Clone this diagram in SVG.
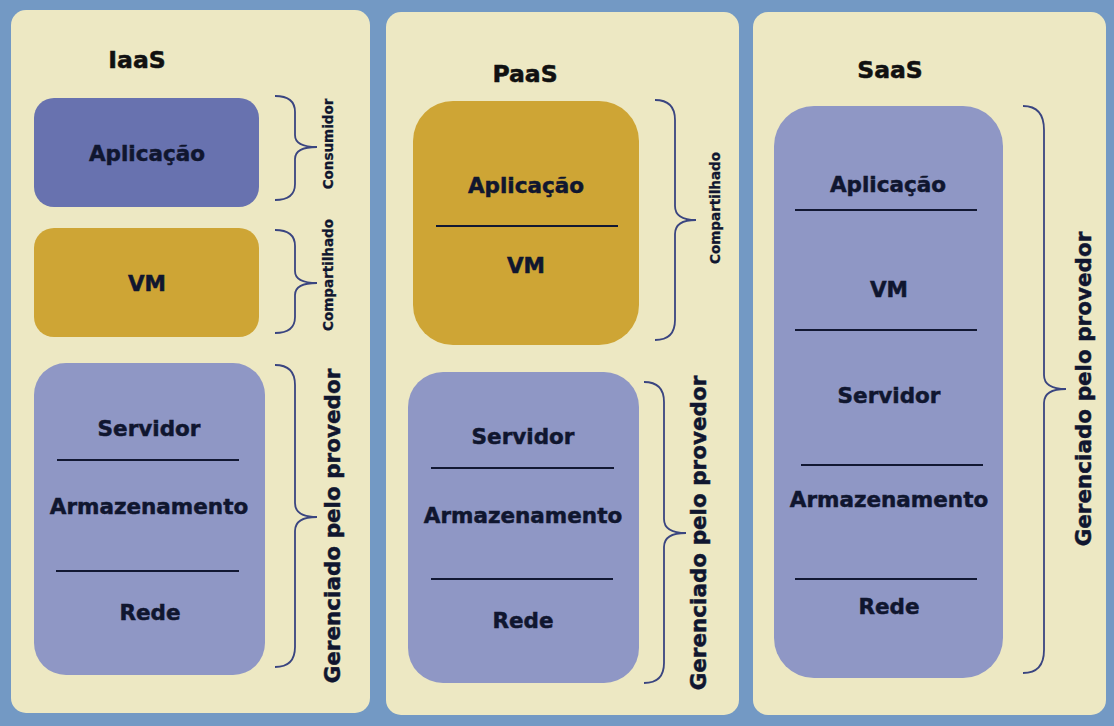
<svg xmlns="http://www.w3.org/2000/svg" width="1114" height="726" viewBox="0 0 1114 726">
<style>
.panel{fill:#EDE8C3}
.app{fill:#6872AF}
.gold{fill:#CEA535}
.lav{fill:#8F97C5}
.t{font-family:"DejaVu Sans",Verdana,sans-serif;font-weight:bold;fill:#10162F;stroke:#10162F;stroke-width:0.5;text-anchor:middle}
.title{font-size:23.5px;fill:#111;stroke:#111}
.lbl{font-size:21.5px}
.small{font-size:13.5px;stroke-width:0.3}
.big{font-size:21.5px}
.sep{stroke:#121833;stroke-width:2}
.brace{fill:none;stroke:#3A4580;stroke-width:1.8}
</style>
<rect x="0" y="0" width="1114" height="726" fill="#7399C4"/>

<g id="iaas">
<rect class="panel" x="11" y="10" width="359" height="703" rx="15"/>
<text class="t title" x="137" y="68">IaaS</text>
</g>
<g id="iaas-app">
<rect class="app" x="34" y="98" width="225" height="109" rx="20"/>
<text class="t lbl" x="147" y="161">Aplicação</text>
</g>
<g id="iaas-vm">
<rect class="gold" x="34" y="228" width="225" height="109" rx="20"/>
<text class="t lbl" x="147" y="291">VM</text>
</g>
<g id="iaas-infra">
<rect class="lav" x="34" y="363" width="231" height="312" rx="32"/>
<text class="t lbl" x="149" y="436">Servidor</text>
<line class="sep" x1="57" y1="460" x2="239" y2="460"/>
<text class="t lbl" x="149" y="514">Armazenamento</text>
<line class="sep" x1="56" y1="571" x2="239" y2="571"/>
<text class="t lbl" x="150" y="620">Rede</text>
</g>

<g id="paas">
<rect class="panel" x="386" y="12" width="353" height="703" rx="15"/>
<text class="t title" x="525" y="82">PaaS</text>
</g>
<g id="paas-appvm">
<rect class="gold" x="413" y="101" width="226" height="244" rx="40"/>
<text class="t lbl" x="526" y="193">Aplicação</text>
<line class="sep" x1="436" y1="226" x2="618" y2="226"/>
<text class="t lbl" x="526" y="273">VM</text>
</g>
<g id="paas-infra">
<rect class="lav" x="408" y="372" width="231" height="311" rx="35"/>
<text class="t lbl" x="523" y="444">Servidor</text>
<line class="sep" x1="431" y1="468" x2="614" y2="468"/>
<text class="t lbl" x="523" y="523">Armazenamento</text>
<line class="sep" x1="431" y1="579" x2="613" y2="579"/>
<text class="t lbl" x="523" y="628">Rede</text>
</g>

<g id="saas">
<rect class="panel" x="753" y="12" width="353" height="703" rx="15"/>
<text class="t title" x="890" y="78">SaaS</text>
</g>
<g id="saas-stack">
<rect class="lav" x="774" y="106" width="229" height="572" rx="40"/>
<text class="t lbl" x="888" y="192">Aplicação</text>
<line class="sep" x1="795" y1="210" x2="977" y2="210"/>
<text class="t lbl" x="889" y="297">VM</text>
<line class="sep" x1="795" y1="330" x2="977" y2="330"/>
<text class="t lbl" x="889" y="403">Servidor</text>
<line class="sep" x1="801" y1="465" x2="983" y2="465"/>
<text class="t lbl" x="889" y="507">Armazenamento</text>
<line class="sep" x1="795" y1="579" x2="977" y2="579"/>
<text class="t lbl" x="889" y="614">Rede</text>
</g>

<g id="connectors">
<path class="brace" d="M275 96 Q295 96 295 112 L295 135 Q295 147 317 147 Q295 147 295 159 L295 184 Q295 200 275 200"/>
<path class="brace" d="M275 230 Q295 230 295 246 L295 271 Q295 283 317 283 Q295 283 295 295 L295 317 Q295 333 275 333"/>
<path class="brace" d="M275 365 Q295 365 295 385 L295 503 Q295 517 317 517 Q295 517 295 531 L295 647 Q295 667 275 667"/>
<path class="brace" d="M655 100 Q675 100 675 120 L675 206 Q675 220 696 220 Q675 220 675 234 L675 320 Q675 340 655 340"/>
<path class="brace" d="M644 382 Q664 382 664 402 L664 519 Q664 533 686 533 Q664 533 664 547 L664 663 Q664 683 644 683"/>
<path class="brace" d="M1023 106 Q1044 106 1044 130 L1044 375 Q1044 389 1066 389 Q1044 389 1044 403 L1044 650 Q1044 673 1023 673"/>
</g>

<g id="labels">
<text class="t small" transform="translate(333 144) rotate(-90)">Consumidor</text>
<text class="t small" transform="translate(333 275) rotate(-90)">Compartilhado</text>
<text class="t big" transform="translate(340 526) rotate(-90)">Gerenciado pelo provedor</text>
<text class="t small" transform="translate(720 208) rotate(-90)">Compartilhado</text>
<text class="t big" transform="translate(706 533) rotate(-90)">Gerenciado pelo provedor</text>
<text class="t big" transform="translate(1091 389) rotate(-90)">Gerenciado pelo provedor</text>
</g>
</svg>
